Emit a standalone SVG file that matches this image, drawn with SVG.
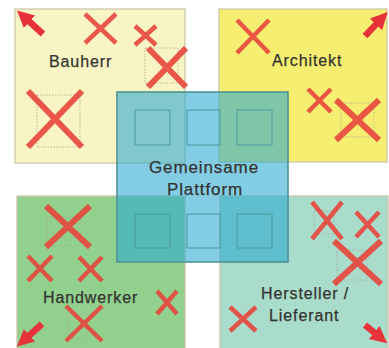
<svg xmlns="http://www.w3.org/2000/svg" width="389" height="348" viewBox="0 0 389 348">
<defs>
<style>
.q{stroke:#c9c3a6;stroke-width:1.2}
.x{stroke:#e8453c;stroke-linecap:butt;fill:none;opacity:0.9}
.xb{stroke-width:6}
.xs{stroke-width:4.5}
.ds{fill:none;stroke:#a9a69a;stroke-width:0.8;stroke-dasharray:1.5 1.5}
.arr{stroke:#e8323a;stroke-width:6.5;fill:none;marker-end:url(#ah)}
.lbl{font-family:"Liberation Sans",Arial,sans-serif;font-size:16px;fill:#333330;letter-spacing:0.9px;stroke:#333330;stroke-width:0.25}
.big{font-size:17px}
.sq{fill:none;stroke:#4b9a9c;stroke-width:1}
</style>
<marker id="ah" viewBox="0 0 10 10" refX="6" refY="5" markerWidth="2.6" markerHeight="2.6" orient="auto" markerUnits="strokeWidth">
<path d="M0,0 L10,5 L0,10 z" fill="#e8323a"/>
</marker>
</defs>
<rect width="389" height="348" fill="#ffffff"/>

<g id="bauherr">
<rect class="q" x="15" y="9" width="170" height="154" fill="#f8f4c4"/>
<rect class="ds" x="37" y="95" width="43" height="52"/>
<rect class="ds" x="145" y="48" width="33" height="35"/>
<path class="x xs" d="M85,14 L116,43 M116,14 L85,43"/>
<path class="x xs" d="M135,26 L156,45 M156,26 L135,45"/>
<path class="x xb" d="M148,48 L186,87 M186,48 L148,87"/>
<path class="x xb" d="M28,91 L82,147 M82,91 L28,147"/>
<path class="arr" d="M43,34 L22,15"/>
<text class="lbl" x="49" y="67">Bauherr</text>
</g>

<g id="architekt">
<rect class="q" x="219" y="9" width="168" height="153" fill="#f6ee70"/>
<rect class="ds" x="341" y="103" width="33" height="34"/>
<path class="x xs" d="M237,20 L269,53 M269,20 L237,53"/>
<path class="x xs" d="M308,89 L331,112 M331,89 L308,112"/>
<path class="x xb" d="M336,100 L379,140 M379,100 L336,140"/>
<path class="arr" d="M365,36 L383,17"/>
<text class="lbl" x="272" y="66">Architekt</text>
</g>

<g id="handwerker">
<rect class="q" x="17" y="196" width="168" height="153" fill="#91d08d"/>
<rect class="ds" x="47" y="217" width="33" height="28"/>
<rect class="ds" x="68" y="314" width="19" height="25"/>
<path class="x xb" d="M46,206 L90,247 M90,206 L46,247"/>
<path class="x xs" d="M28,256 L52,281 M52,256 L28,281"/>
<path class="x xs" d="M79,257 L102,281 M102,257 L79,281"/>
<path class="x xs" d="M157,291 L177,314 M177,291 L157,314"/>
<path class="x xs" d="M66,306 L102,341 M102,306 L66,341"/>
<path class="arr" d="M42,324 L22,342"/>
<text class="lbl" x="43" y="303">Handwerker</text>
</g>

<g id="hersteller">
<rect class="q" x="220" y="196" width="168" height="153" fill="#aadccb"/>
<rect class="ds" x="314" y="211" width="20" height="23"/>
<rect class="ds" x="337" y="250" width="30" height="30"/>
<path class="x xs" d="M312,202 L342,239 M342,202 L312,239"/>
<path class="x xs" d="M356,212 L379,237 M379,212 L356,237"/>
<path class="x xb" d="M334,241 L381,284 M381,241 L334,284"/>
<path class="x xs" d="M230,307 L256,331 M256,307 L230,331"/>
<path class="arr" d="M365,325 L382,339"/>
<text class="lbl" x="261" y="299">Hersteller /</text>
<text class="lbl" x="269" y="321">Lieferant</text>
</g>

<g id="plattform">
<rect x="117" y="92" width="171" height="170" fill="#2aa8d0" fill-opacity="0.58" stroke="#4f9198" stroke-width="1.6"/>
<rect class="sq" x="135" y="110" width="35" height="35"/>
<rect class="sq" x="187" y="110" width="33" height="35"/>
<rect class="sq" x="237" y="110" width="35" height="35"/>
<rect class="sq" x="135" y="214" width="35" height="34"/>
<rect class="sq" x="187" y="214" width="33" height="34"/>
<rect class="sq" x="237" y="214" width="35" height="34"/>
<text class="lbl big" x="204" y="173" text-anchor="middle">Gemeinsame</text>
<text class="lbl big" x="205" y="195" text-anchor="middle">Plattform</text>
</g>

<g id="connectors"/>
</svg>
